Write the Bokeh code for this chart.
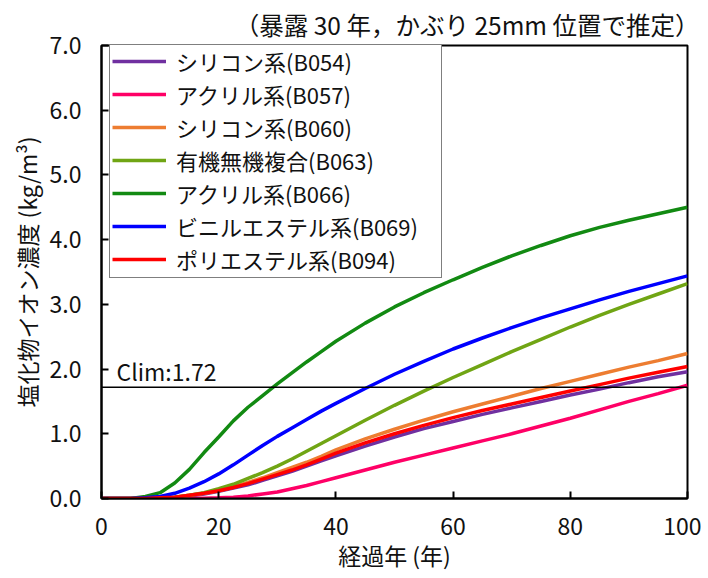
from bokeh.plotting import figure
from bokeh.models import Range1d, Span, Label, FixedTicker, NumeralTickFormatter
from bokeh.embed import file_html
from bokeh.resources import INLINE

FONT = "Noto Sans CJK JP"

title_text = "（暴露 30 年，かぶり 25mm 位置で推定）"
x_label = "経過年 (年)"
y_label = "塩化物イオン濃度 (kg/m³)"

years = [0, 2.5, 5, 7.5, 10, 12.5, 15, 17.5, 20, 22.5, 25, 27.5, 30, 32.5, 35, 37.5, 40,
         45, 50, 55, 60, 65, 70, 75, 80, 85, 90, 95, 100]
b054 = [0, 0, 0, 0, 0.01, 0.02, 0.04, 0.07, 0.11, 0.16, 0.21, 0.28, 0.35, 0.42, 0.50, 0.58, 0.66,
        0.81, 0.95, 1.08, 1.19, 1.30, 1.40, 1.50, 1.60, 1.69, 1.79, 1.88, 1.96]
b057 = [0, 0, 0, 0, 0, 0, 0, 0.005, 0.01, 0.02, 0.04, 0.07, 0.10, 0.15, 0.20, 0.26, 0.32,
        0.44, 0.56, 0.67, 0.78, 0.89, 1.00, 1.12, 1.24, 1.37, 1.50, 1.62, 1.75]
b060 = [0, 0, 0, 0, 0.01, 0.02, 0.05, 0.08, 0.12, 0.18, 0.25, 0.32, 0.40, 0.48, 0.56, 0.65, 0.75,
        0.92, 1.07, 1.21, 1.34, 1.46, 1.58, 1.70, 1.81, 1.92, 2.03, 2.13, 2.24]
b063 = [0, 0, 0, 0, 0.01, 0.02, 0.05, 0.09, 0.15, 0.22, 0.31, 0.40, 0.50, 0.61, 0.73, 0.85, 0.97,
        1.21, 1.44, 1.66, 1.87, 2.07, 2.27, 2.46, 2.65, 2.83, 3.00, 3.16, 3.32]
b066 = [0, 0, 0, 0.03, 0.09, 0.24, 0.45, 0.71, 0.95, 1.20, 1.41, 1.59, 1.77, 1.94, 2.11, 2.27, 2.43,
        2.71, 2.96, 3.18, 3.38, 3.57, 3.75, 3.91, 4.06, 4.19, 4.30, 4.40, 4.50]
b069 = [0, 0, 0, 0.01, 0.03, 0.08, 0.16, 0.26, 0.38, 0.52, 0.67, 0.82, 0.96, 1.09, 1.22, 1.35, 1.47,
        1.70, 1.92, 2.12, 2.31, 2.48, 2.64, 2.79, 2.93, 3.07, 3.20, 3.32, 3.44]
b094 = [0, 0, 0, 0, 0.01, 0.02, 0.05, 0.08, 0.12, 0.17, 0.23, 0.30, 0.37, 0.44, 0.52, 0.61, 0.70,
        0.86, 1.00, 1.13, 1.25, 1.36, 1.46, 1.56, 1.66, 1.76, 1.86, 1.95, 2.04]

series_names = ["シリコン系(B054)", "アクリル系(B057)", "シリコン系(B060)", "有機無機複合(B063)",
                "アクリル系(B066)", "ビニルエステル系(B069)", "ポリエステル系(B094)"]
series_values = [b054, b057, b060, b063, b066, b069, b094]
series_colors = ["#7030A0", "#FF0066", "#ED7D31", "#70A514", "#128A12", "#0000FF", "#FF0000"]

clim = 1.72
x_ticks = [0, 20, 40, 60, 80, 100]
y_ticks = [0, 1, 2, 3, 4, 5, 6, 7]

FRAME_H = 453
p = figure(frame_width=586, frame_height=FRAME_H, output_backend="svg", toolbar_location=None,
           x_range=Range1d(0, 100), y_range=Range1d(0, 7),
           min_border_left=101, min_border_right=14, min_border_top=38, min_border_bottom=72)
p.background_fill_color = "white"
p.border_fill_color = "white"
p.outline_line_color = "black"
p.outline_line_width = 2
p.xgrid.visible = False
p.ygrid.visible = False

p.title.text = title_text
p.title.align = "right"
p.title.offset = -12
p.title.text_font = FONT
p.title.text_font_size = "24.5px"
p.title.text_font_style = "normal"
p.title.text_color = "#111111"
p.title.standoff = 8

for ax in (p.xaxis[0], p.yaxis[0]):
    ax.axis_line_color = "black"
    ax.axis_line_width = 2
    ax.major_tick_in = 7
    ax.major_tick_out = 0
    ax.major_tick_line_width = 2
    ax.minor_tick_line_color = None
    ax.major_label_text_font = FONT
    ax.major_label_text_font_size = "23px"
    ax.major_label_text_color = "#111111"
    ax.axis_label_text_font = FONT
    ax.axis_label_text_font_size = "23px"
    ax.axis_label_text_font_style = "normal"
    ax.axis_label_text_color = "#111111"

p.xaxis.ticker = FixedTicker(ticks=x_ticks)
p.yaxis.ticker = FixedTicker(ticks=y_ticks)
p.yaxis.formatter = NumeralTickFormatter(format="0.0")
p.xaxis.axis_label = x_label
p.yaxis.axis_label = y_label
p.xaxis.major_label_standoff = 19
p.xaxis.axis_label_standoff = 0
p.yaxis.major_label_standoff = 20
p.yaxis.axis_label_standoff = 3

span = Span(location=clim, dimension="width", line_color="black", line_width=1.5)
p.add_layout(span)
p.add_layout(Label(x=0, y=clim, x_offset=15, y_offset=-1, text="Clim:" + str(clim),
                   text_font=FONT, text_font_size="23px", text_color="#111111"))

for name, vals, col in zip(series_names, series_values, series_colors):
    p.line(years, vals, line_width=3.5, line_color=col, legend_label=name)

lg = p.legend[0]
LEG_H = 2 * 2 + 7 * 32 + 6 * 1
lg.location = (8, FRAME_H + 1 - LEG_H)
lg.margin = 0
lg.label_text_font = FONT
lg.label_text_font_size = "22px"
lg.label_text_color = "#111111"
lg.border_line_color = "black"
lg.border_line_width = 1.5
lg.background_fill_color = "white"
lg.background_fill_alpha = 1
lg.glyph_width = 54
lg.glyph_height = 32
lg.label_height = 32
lg.label_width = 263
lg.label_standoff = 10
lg.spacing = 1
lg.padding = 2

open("out.html", "w").write(file_html(p, INLINE))
